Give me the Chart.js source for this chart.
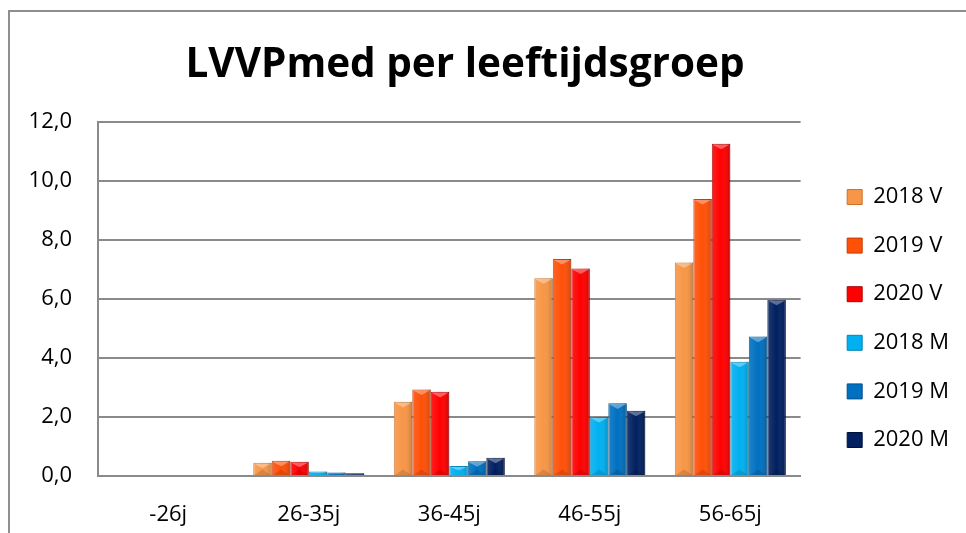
<!DOCTYPE html>
<html>
<head>
<meta charset="utf-8">
<script src="https://cdn.jsdelivr.net/npm/chart.js@4.4.1/dist/chart.umd.min.js"></script>
<style>
  body { margin: 0; background: #fff; }
  #wrap { position: relative; width: 966px; height: 533px; }
  #chart { position: absolute; left: 0; top: 0; }
  .edge { position: absolute; background: #8f8f8f; }
</style>
</head>
<body>
<div id="wrap">
  <div class="edge" style="left:8px; top:10px; width:2px; height:523px;"></div>
  <div class="edge" style="left:8px; top:10px; width:958px; height:2px;"></div>
  <canvas id="chart" width="966" height="533"></canvas>
</div>
<script>
const groups = ["-26j", "26-35j", "36-45j", "46-55j", "56-65j"];
const seriesNames = ["2018 V", "2019 V", "2020 V", "2018 M", "2019 M", "2020 M"];
const v2018 = [0, 0.45, 2.51, 6.70, 7.23];
const v2019 = [0, 0.52, 2.93, 7.35, 9.38];
const v2020 = [0, 0.48, 2.85, 7.03, 11.25];
const m2018 = [0, 0.15, 0.34, 2.00, 3.87];
const m2019 = [0, 0.12, 0.50, 2.46, 4.72];
const m2020 = [0, 0.09, 0.62, 2.21, 5.97];
const yTicks = [0, 2, 4, 6, 8, 10, 12];

const colors = ["#F79646", "#FF5008", "#FF0000", "#00B0F0", "#0070C0", "#002060"];
const edges = ["#C8742F", "#C43A00", "#B00000", "#0086B8", "#004F8A", "#00123A"];

const values = [v2018, v2019, v2020, m2018, m2019, m2020];

const tweaks = {
    id: "tweaks",
    afterLayout(chart) {
        // title in the original is centred a bit left of the canvas middle
        chart.titleBlock.left = 0;
        chart.titleBlock.right = 930;
        // legend sits lower, beside the plot
        chart.legend.top = 159.4;
        // let x labels (descenders) draw below the squeezed axis box
        chart.scales.x.bottom = chart.height;
    },
    // bevel look: side shading + light triangle on top of each bar
    afterDatasetsDraw(chart) {
        const ctx = chart.ctx;
        chart.data.datasets.forEach((ds, i) => {
            const meta = chart.getDatasetMeta(i);
            meta.data.forEach(bar => {
                const w = bar.width;
                const h = bar.base - bar.y;
                if (h < 1) return;
                const l = bar.x - w / 2, r = bar.x + w / 2;
                ctx.save();
                const g = ctx.createLinearGradient(l, 0, r, 0);
                g.addColorStop(0, "rgba(255,255,255,0.12)");
                g.addColorStop(0.5, "rgba(255,255,255,0)");
                g.addColorStop(1, "rgba(0,0,0,0.18)");
                ctx.fillStyle = g;
                ctx.fillRect(l, bar.y, w, h);
                const t = Math.min(w * 0.3, h / 2);
                ctx.fillStyle = "rgba(255,255,255,0.35)";
                ctx.beginPath();
                ctx.moveTo(l + 1, bar.y + 1);
                ctx.lineTo(r - 1, bar.y + 1);
                ctx.lineTo(bar.x, bar.y + t);
                ctx.closePath();
                ctx.fill();
                if (h > 2 * t) {
                    ctx.fillStyle = "rgba(0,0,0,0.12)";
                    ctx.beginPath();
                    ctx.moveTo(l + 1, bar.base);
                    ctx.lineTo(r - 1, bar.base);
                    ctx.lineTo(bar.x, bar.base - t);
                    ctx.closePath();
                    ctx.fill();
                }
                ctx.restore();
            });
        });
    }
};

const font = { family: "'Open Sans', sans-serif", size: 22 };

new Chart(document.getElementById("chart"), {
    type: "bar",
    data: {
        labels: groups,
        datasets: seriesNames.map((name, i) => ({
            label: name,
            data: values[i],
            backgroundColor: colors[i],
            borderColor: edges[i],
            borderWidth: 1,
            categoryPercentage: 0.79,
            barPercentage: 1.0
        }))
    },
    options: {
        responsive: false,
        animation: false,
        layout: { padding: { left: 0, right: 7, top: 0, bottom: 18 } },
        plugins: {
            title: {
                display: true,
                text: "LVVPmed per leeftijdsgroep",
                color: "#000",
                font: { family: "'Open Sans', sans-serif", size: 40.5, weight: "bold" },
                padding: { top: 41, bottom: 32 }
            },
            legend: {
                position: "right",
                align: "start",
                labels: {
                    color: "#000",
                    font: font,
                    boxWidth: 15,
                    boxHeight: 15,
                    padding: 26.6
                }
            },
            tooltip: { enabled: false }
        },
        scales: {
            x: {
                afterFit: s => { s.height = 39; },
                grid: { display: false },
                border: { color: "#8a8a8a", width: 2 },
                ticks: { color: "#000", font: font, padding: 18 }
            },
            y: {
                min: 0,
                max: 12,
                afterFit: s => { s.width = 98; },
                afterBuildTicks: s => { s.ticks = yTicks.map(v => ({ value: v })); },
                grid: { color: "#8a8a8a", lineWidth: 2, drawTicks: false },
                border: { color: "#8a8a8a", width: 2 },
                ticks: {
                    color: "#000",
                    font: font,
                    padding: 26,
                    callback: v => v.toFixed(1).replace(".", ",")
                }
            },
            gap: {
                position: "right",
                display: true,
                afterFit: s => { s.width = 20; },
                grid: { display: false },
                border: { display: false },
                ticks: { display: false }
            }
        }
    },
    plugins: [tweaks]
});
</script>
</body>
</html>
